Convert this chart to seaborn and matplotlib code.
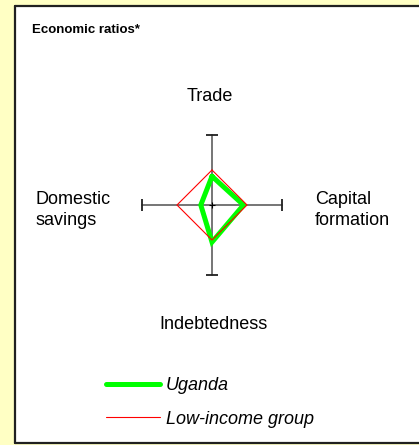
import numpy as np
import pandas as pd
import matplotlib
matplotlib.use("Agg")
import matplotlib.pyplot as plt
from matplotlib.patches import Rectangle
import seaborn as sns

# axes of the diamond, clockwise from the top
categories = ["Trade", "Capital formation", "Indebtedness", "Domestic savings"]
uganda = [41, 45, 53, 16]
low_income = [50, 50, 50, 50]
series_names = ["Uganda", "Low-income group"]

W, H = 419, 445
CX, CY, SCALE = 212, 205, 0.70   # centre of the diamond in px, px per unit


def px(x, y):
    '''pixel position (from top left) -> figure fraction'''
    return x / W, 1 - y / H


def to_frame(values, name):
    ang = np.arange(len(values)) * np.pi / 2
    v = np.array(values + values[:1], dtype=float)
    a = np.append(ang, ang[0])
    return pd.DataFrame({"x": v * np.sin(a), "y": v * np.cos(a),
                         "order": range(len(v)), "series": name})


sns.set_style("white")
plt.rcParams["font.family"] = ["Liberation Sans", "DejaVu Sans"]
plt.rcParams["text.color"] = "black"

fig = plt.figure(figsize=(W / 100, H / 100), dpi=100)
fig.patch.set_facecolor("#FFFFC4")
fig.patches.append(Rectangle(px(15, 443), 1.0, (443 - 6) / H, transform=fig.transFigure,
                             facecolor="white", edgecolor="none", zorder=0))
for (x0, y0), (x1, y1) in [((15, 6), (15, 443)), ((15, 6), (419, 6)), ((15, 443), (419, 443))]:
    fig.add_artist(plt.Line2D([x0 / W, x1 / W], [1 - y0 / H, 1 - y1 / H],
                              transform=fig.transFigure, color="#202020", lw=1.6))

ax = fig.add_axes([0, 0, 1, 1], zorder=5)
ax.set_xlim(-CX / SCALE, (W - CX) / SCALE)
ax.set_ylim((CY - H) / SCALE, CY / SCALE)
ax.set_axis_off()
ax.patch.set_alpha(0)

# cross of axes with end caps
ax.plot([-100, 100], [0, 0], color="#6a6a6a", lw=1.3, zorder=1)
ax.plot([0, 0], [-100, 100], color="#6a6a6a", lw=1.3, zorder=1)
ax.plot([-100, 100], [0, 0], ls="none", marker="|", ms=9, mew=1.3, color="#202020", zorder=1)
ax.plot([0, 0], [-100, 100], ls="none", marker="_", ms=9, mew=1.3, color="#202020", zorder=1)
ax.plot([0], [0], marker="+", ms=4, mew=0.8, color="black", zorder=1)

df_u = to_frame(uganda, series_names[0])
df_l = to_frame(low_income, series_names[1])
sns.lineplot(data=df_u, x="x", y="y", sort=False, estimator=None, color="#00FF00", lw=3.6,
             label=series_names[0], ax=ax, solid_joinstyle="miter", zorder=2)
sns.lineplot(data=df_l, x="x", y="y", sort=False, estimator=None, color="#FF0000", lw=0.8,
             label=series_names[1], ax=ax, zorder=3)

fs = 13
fig.text(*px(32, 33), "Economic ratios*", fontsize=9.5, fontweight="bold", va="baseline")
fig.text(*px(210, 101), categories[0], fontsize=fs, ha="center", va="baseline")
fig.text(*px(315, 210), "Capital\nformation", fontsize=fs, ha="left", va="center", linespacing=1.25)
fig.text(*px(213, 329), categories[2], fontsize=fs, ha="center", va="baseline")
fig.text(*px(35, 210), "Domestic\nsavings", fontsize=fs, ha="left", va="center", linespacing=1.25)

ax.legend(loc="upper left", bbox_to_anchor=px(106, 377), bbox_transform=fig.transFigure,
          frameon=False, borderpad=0, borderaxespad=0, handlelength=3.0, handletextpad=0.3,
          labelspacing=0.92, prop={"size": fs, "style": "italic"})

fig.savefig("out.png", dpi=100, facecolor=fig.get_facecolor())
